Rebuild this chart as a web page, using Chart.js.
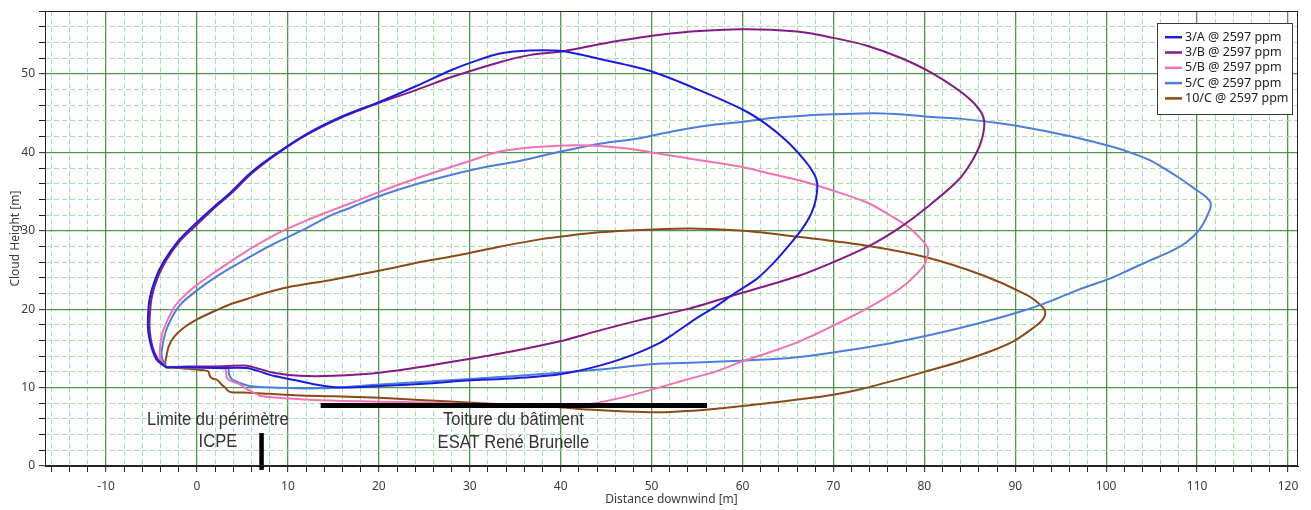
<!DOCTYPE html>
<html>
<head>
<meta charset="utf-8">
<title>Cloud Height vs Distance downwind</title>
<script src="https://cdn.jsdelivr.net/npm/chart.js@4/dist/chart.umd.min.js"></script>
<style>
  html, body { margin: 0; padding: 0; background: #ffffff; }
  #wrap { position: relative; width: 1311px; height: 510px; }
</style>
</head>
<body>
<div id="wrap"><canvas id="chart"></canvas></div>
<script>
// Series labels (legend order)
const seriesLabels = ['3/A @ 2597 ppm', '3/B @ 2597 ppm', '5/B @ 2597 ppm', '5/C @ 2597 ppm', '10/C @ 2597 ppm'];

// Cloud contour outlines, [distance downwind (m), cloud height (m)]
const contour3A = [[-3.4,12.6],[-4.4,13.5],[-5.0,15.1],[-5.35,17.0],[-5.4,18.9],[-5.2,21.4],[-4.6,23.8],[-3.7,26.0],[-2.0,28.8],[0,31.1],[2,33.2],[3.6,34.8],[6,37.5],[8.8,39.9],[12,42.3],[16,44.6],[20,46.4],[24,48.4],[28,50.5],[30.5,51.6],[33.3,52.6],[36.6,53.0],[40.3,52.9],[44.3,51.9],[49.8,50.4],[55.3,47.9],[60.1,45.4],[62.6,43.6],[64.8,41.5],[66.6,39.3],[67.7,37.6],[68.2,36.2],[68.1,34.2],[67.6,32.3],[66.6,30.3],[65.3,28.4],[63.5,26.0],[61.6,23.9],[59.1,22.0],[57.0,20.3],[55.0,18.9],[52.5,16.9],[50.9,15.7],[48.0,14.2],[44.3,12.8],[39.9,11.7],[35.0,11.2],[29.7,10.9],[25.0,10.5],[20.1,10.2],[16.0,10.0],[13.5,10.3],[11.0,10.9],[8.4,11.5],[6.5,12.2],[5.5,12.5],[2,12.5],[-1,12.6],[-3.4,12.6]];
const contour3B = [[-3.4,12.6],[-4.3,13.6],[-4.9,15.2],[-5.2,17.2],[-5.2,19.0],[-5.0,21.4],[-4.4,23.8],[-3.4,26.2],[-1.8,28.8],[0,30.8],[2,33.0],[4,35.0],[6,37.3],[8.8,39.8],[12,42.2],[16,44.5],[20,46.3],[24,47.9],[28,49.6],[33.3,51.5],[36.6,52.4],[40.3,52.9],[46.2,54.2],[52.4,55.2],[59.7,55.7],[66.0,55.4],[70.0,54.6],[73.7,53.6],[77.5,52.0],[81.0,50.0],[84.7,47.1],[86.2,45.2],[86.6,43.7],[86.2,41.2],[85.2,38.8],[83.7,36.4],[80.3,33.0],[77.3,30.4],[74.0,28.1],[70.0,26.0],[66.3,24.3],[59.7,22.0],[54.2,20.1],[48.7,18.6],[44.0,17.2],[39.9,15.9],[35.0,14.7],[29.7,13.6],[25.0,12.7],[20.1,11.9],[15.0,11.5],[11.3,11.5],[8.4,11.9],[6.5,12.5],[5.5,12.8],[2,12.7],[-1,12.7],[-3.4,12.6]];
const contour5B = [[-3.4,12.6],[-4.0,13.5],[-4.1,14.6],[-3.8,17.0],[-2.6,20.1],[-1.5,21.6],[0,23.1],[1.8,24.6],[3.6,26.0],[6.3,28.0],[9.1,29.8],[12,31.3],[14.6,32.5],[18,34.0],[22,35.8],[26,37.4],[30,38.9],[33.3,40.1],[37.7,40.7],[42.1,40.9],[47.3,40.5],[51,39.8],[55.3,39.0],[59.7,38.2],[63,37.3],[66.3,36.4],[69.5,35.3],[73.7,33.6],[76.2,32.0],[78.1,30.6],[79.6,29.0],[80.4,27.7],[80.3,26.6],[79.8,25.3],[77.3,22.6],[73.7,20.1],[70,17.9],[66.3,15.9],[63,14.5],[60.1,13.4],[57.2,12.1],[53.5,10.9],[50.2,9.8],[47,8.8],[43.2,7.9],[39.9,7.7],[35,7.8],[29.7,7.9],[25,8.1],[20.1,8.2],[16,8.3],[13.5,8.4],[10.2,8.6],[8,8.8],[6.9,9.0],[5.8,9.6],[4.7,10.4],[3.6,10.9],[3.3,11.2],[3.2,11.9],[3.1,12.4],[1,12.5],[-1.5,12.6],[-3.4,12.6]];
const contour5C = [[-3.4,12.6],[-3.8,13.6],[-3.9,14.6],[-3.3,17.6],[-1.9,20.5],[0,22.4],[1.8,23.9],[3.6,25.2],[6.3,27.0],[9.1,28.7],[12,30.3],[14.6,31.9],[17,33.0],[20,34.4],[24,35.9],[28.9,37.4],[32,38.2],[35.5,38.9],[40,40.1],[44.3,41.1],[48.7,41.8],[52.4,42.7],[56,43.4],[60.1,43.9],[63.5,44.4],[67.1,44.7],[70,44.85],[74.6,45.0],[78,44.8],[81,44.5],[83.9,44.3],[88.3,43.7],[91,43.2],[93.8,42.6],[97,41.8],[100.4,40.8],[102.6,40.0],[104.8,39.0],[106.6,37.8],[108.1,36.7],[109.8,35.3],[111.0,34.3],[111.5,33.5],[111.3,32.4],[110.3,30.2],[108.8,28.5],[107,27.3],[104.8,26.2],[102.5,25.0],[100.4,23.9],[97,22.5],[93.8,21.0],[90.6,19.7],[86,18.2],[81,16.8],[76,15.6],[71.8,14.8],[66.3,13.9],[63,13.6],[59,13.4],[55,13.2],[50.2,13.0],[44.3,12.3],[39.9,11.9],[30,11.1],[20.1,10.4],[13.5,9.9],[8.4,10.0],[5.8,10.2],[4.7,10.6],[3.8,11.1],[3.5,11.8],[3.4,12.5],[1,12.6],[-3.4,12.6]];
const contour10C = [[-3.4,12.6],[-3.5,13.0],[-3.4,13.8],[-3.1,15.3],[-2.5,16.5],[-1.5,17.6],[0,18.7],[2,19.8],[3.6,20.6],[5.5,21.3],[7.3,22.0],[10,22.8],[14.6,23.7],[20,24.9],[25,26.1],[28.9,26.9],[33,27.9],[37.7,28.9],[41,29.4],[44.3,29.8],[48.7,30.1],[54.2,30.3],[60.1,30.0],[66.3,29.2],[73.7,28.1],[80.3,26.6],[86.5,24.3],[91.3,21.8],[92.8,20.5],[93.3,19.6],[92.9,18.5],[91.5,17.2],[89.8,15.9],[87.2,14.6],[83.9,13.3],[80,12.0],[77.3,11.1],[73,9.8],[70,9.1],[66.3,8.5],[62,7.9],[58,7.4],[55.3,7.1],[52,6.9],[49.8,6.85],[46,7.0],[43,7.2],[39.9,7.5],[35,7.8],[29.7,8.1],[25,8.4],[20.1,8.7],[15,8.9],[11.3,9.0],[8,9.2],[5.8,9.35],[3.8,9.4],[3.4,9.6],[3.1,10.0],[2.7,10.4],[2.2,11.0],[1.6,11.2],[1.4,11.5],[1.2,12.1],[-1,12.4],[-3.4,12.6]];

// Site features (metres)
const roofSpan = [13.6, 56.1];     // building roof, from / to distance
const roofHeight = 7.7;
const perimeterX = 7.1;            // ICPE perimeter limit
const perimeterSpan = [-0.5, 4.2]; // marker extent in height
const roofLabel = ['Toiture du bâtiment', 'ESAT René Brunelle'];
const roofLabelAt = [34.8, 5.8, 2.9];       // x, y line 1, y line 2
const perimeterLabel = ['Limite du périmètre', 'ICPE'];
const perimeterLabelAt = [2.3, 5.9, 3.0];

// Axis ranges and tick steps
const xRange = [-16.72, 121.1];
const yRange = [0, 58];
const minorStep = 2;
const majorStep = 10;

const colors = ['#1c1ce0', '#861a86', '#f472b4', '#4d7ede', '#8c4a1a'];
const contours = [contour3A, contour3B, contour5B, contour5C, contour10C];

const toPoints = arr => arr.map(([x, y]) => ({ x, y }));

const datasets = contours.map((c, i) => ({
  label: seriesLabels[i],
  data: toPoints(c),
  showLine: true,
  borderColor: colors[i],
  backgroundColor: colors[i],
  borderWidth: 2,
  pointRadius: 0,
  pointHoverRadius: 0,
  tension: 0.3,
  fill: false,
  order: 1,
  inLegend: true
}));

datasets.push({
  label: 'roof',
  data: [{ x: roofSpan[0], y: roofHeight }, { x: roofSpan[1], y: roofHeight }],
  showLine: true, borderColor: '#000', borderWidth: 5, pointRadius: 0, tension: 0, order: 0
});
datasets.push({
  label: 'perimeter',
  data: [{ x: perimeterX, y: perimeterSpan[0] }, { x: perimeterX, y: perimeterSpan[1] }],
  showLine: true, borderColor: '#000', borderWidth: 4.5, pointRadius: 0, tension: 0, order: 0, clip: false
});

const isMajor = v => Math.abs(v % majorStep) < 1e-6;
const MAJOR = 'rgba(60,140,60,0.9)';
const MINOR = 'rgba(160,224,160,0.95)';

function axis(range, title, extra) {
  return Object.assign({
    type: 'linear',
    min: range[0],
    max: range[1],
    ticks: {
      stepSize: minorStep,
      includeBounds: false,
      autoSkip: false,
      maxRotation: 0,
      color: '#3c3c3c',
      font: { size: 12 },
      callback: v => (isMajor(v) ? String(v) : '')
    },
    grid: {
      color: c => (c.tick && isMajor(c.tick.value) ? MAJOR : MINOR),
      lineWidth: c => (c.tick && isMajor(c.tick.value) ? 1.3 : 1),
      tickColor: '#222',
      tickLength: 6,
      tickWidth: 1,
      tickBorderDash: []
    },
    border: {
      display: true,
      color: '#222',
      width: 1,
      dash: c => (c.tick && !isMajor(c.tick.value) ? [5, 3] : [])
    },
    title: { display: true, text: title, color: '#3c3c3c', font: { size: 12 } }
  }, extra);
}

// Frame around the plot area
const frame = {
  id: 'frame',
  afterDatasetsDraw(chart) {
    const { ctx, chartArea: a } = chart;
    ctx.save();
    ctx.strokeStyle = '#222';
    ctx.lineWidth = 1;
    ctx.strokeRect(Math.round(a.left) + 0.5, Math.round(a.top) + 0.5,
                   Math.round(a.right - a.left) - 1, Math.round(a.bottom - a.top) - 1);
    ctx.restore();
  }
};

// Site feature captions, placed in data coordinates
const captions = {
  id: 'captions',
  afterDatasetsDraw(chart) {
    const { ctx, scales: { x, y } } = chart;
    ctx.save();
    ctx.fillStyle = '#333';
    ctx.font = '18px "Liberation Sans", Arial, sans-serif';
    ctx.textAlign = 'center';
    ctx.textBaseline = 'middle';
    const squeeze = 0.92;
    const put = (lines, at) => {
      const px = x.getPixelForValue(at[0]);
      lines.forEach((t, k) => {
        ctx.save();
        ctx.translate(px, y.getPixelForValue(at[k + 1]));
        ctx.scale(squeeze, 1);
        ctx.fillText(t, 0, 0);
        ctx.restore();
      });
    };
    put(roofLabel, roofLabelAt);
    put(perimeterLabel, perimeterLabelAt);
    ctx.restore();
  }
};

// Boxed legend in the top-right corner of the plot
const boxLegend = {
  id: 'boxLegend',
  afterDraw(chart) {
    const { ctx, chartArea: a } = chart;
    const items = chart.data.datasets.filter(d => d.inLegend);
    const w = 135, rowH = 15.3, padTop = 14, h = 91;
    const left = a.right - 6 - w, top = a.top + 12;
    ctx.save();
    ctx.fillStyle = '#fff';
    ctx.fillRect(left, top, w, h);
    ctx.strokeStyle = '#3a3a3a';
    ctx.lineWidth = 1;
    ctx.strokeRect(Math.round(left) + 0.5, Math.round(top) + 0.5, w, h);
    ctx.font = '12.5px "Noto Sans", "Open Sans", sans-serif';
    ctx.textBaseline = 'middle';
    ctx.textAlign = 'left';
    items.forEach((d, i) => {
      const cy = top + padTop + i * rowH;
      ctx.strokeStyle = d.borderColor;
      ctx.lineWidth = 2.5;
      ctx.beginPath();
      ctx.moveTo(left + 8, cy);
      ctx.lineTo(left + 25, cy);
      ctx.stroke();
      ctx.fillStyle = '#222';
      ctx.fillText(d.label, left + 28, cy);
    });
    ctx.restore();
  }
};

Chart.defaults.font.family = '"Noto Sans", "Open Sans", sans-serif';

const xAxis = axis(xRange, 'Distance downwind [m]', {
  position: 'bottom',
  afterFit: s => { s.height = 44; }
});
xAxis.ticks.padding = 7;
xAxis.title.padding = { top: 2, bottom: 3 };

const yAxis = axis(yRange, 'Cloud Height [m]', {
  position: 'left',
  afterFit: s => { s.width = 45; }
});
yAxis.ticks.padding = 4;
yAxis.title.padding = { top: 8, bottom: 2 };

new Chart(document.getElementById('chart'), {
  type: 'scatter',
  data: { datasets },
  options: {
    responsive: true,
    maintainAspectRatio: false,
    animation: false,
    events: [],
    layout: { padding: { top: 7, right: 13, left: 0, bottom: 0 } },
    plugins: { legend: { display: false }, tooltip: { enabled: false } },
    scales: { x: xAxis, y: yAxis }
  },
  plugins: [frame, captions, boxLegend]
});
</script>
</body>
</html>
